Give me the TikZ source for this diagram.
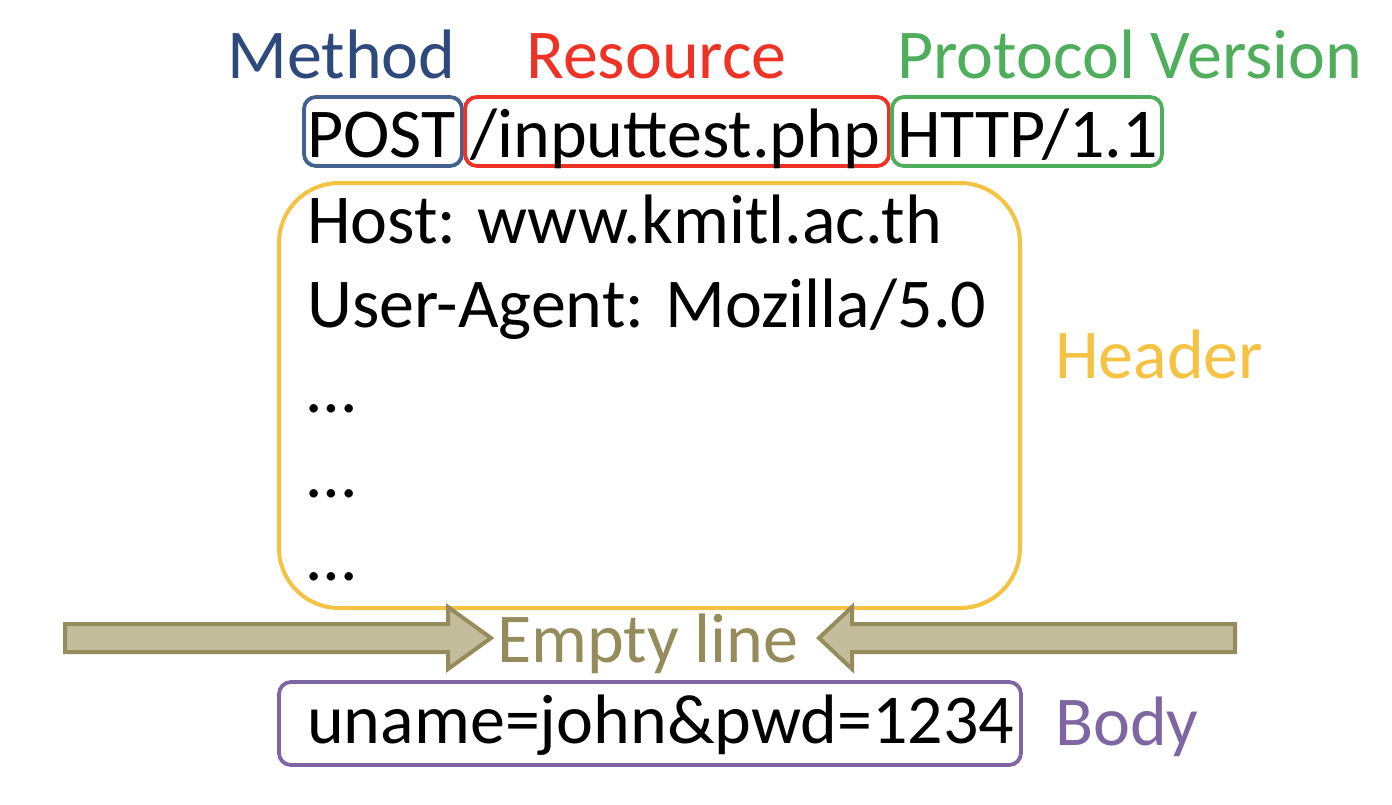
\documentclass[tikz,border=0pt]{standalone}
\usepackage{fontspec}
\setmainfont{Carlito}
\definecolor{cmethod}{HTML}{2E4A7C}
\definecolor{cres}{HTML}{EE3326}
\definecolor{cprot}{HTML}{4FAE5C}
\definecolor{cbox1}{HTML}{43618F}
\definecolor{chead}{HTML}{F5C242}
\definecolor{cafill}{HTML}{C3BD9B}
\definecolor{cadraw}{HTML}{958B5B}
\definecolor{cbody}{HTML}{7E66A2}
\begin{document}
\begin{tikzpicture}[x=1pt,y=-1pt,
  big/.style={inner sep=0pt,anchor=base west,font=\fontsize{70}{84}\selectfont},
  lbl/.style={inner sep=0pt,anchor=base west,font=\fontsize{70}{84}\selectfont},
  rbox/.style={line width=3.8pt,rounded corners=12pt},
  fat/.style={line width=4pt,fill=cafill,draw=cadraw,line join=miter}]
\useasboundingbox (0,0) rectangle (1392,804);
% labels
\node[lbl,text=cmethod] (method) at (227,78) {Method};
\node[lbl,text=cres] (resource) at (526,78) {Resource};
\node[lbl,text=cprot] (protocol) at (897,78) {Protocol Version};
% request line boxes
\draw[rbox,draw=cbox1] (304,97) rectangle (462,166);
\draw[rbox,draw=cres] (465,97) rectangle (889,166);
\draw[rbox,draw=cprot] (892,97) rectangle (1162,166);
\node[big] (post) at (307,157) {POST};
\node[big] (res) at (470,157) {/inputtest.php};
\node[big] (http) at (897,157) {HTTP/1.1};
% header
\draw[line width=4pt,draw=chead,rounded corners=60pt] (279,183) rectangle (1020,608);
\node[big] (host) at (307,243) {Host: www.kmitl.ac.th};
\node[big] (ua) at (307,327) {User-Agent: Mozilla/5.0};
\node[big] (d1) at (307,412) {…};
\node[big] (d2) at (307,497) {…};
\node[big] (d3) at (307,580) {…};
\node[lbl,text=chead] (header) at (1055,378) {Header};
% empty line arrows
\draw[fat] (65,624) -- (448,624) -- (448,607) -- (491,638) -- (448,669) -- (448,652) -- (65,652) -- cycle;
\draw[fat] (1235,624) -- (852,624) -- (852,607) -- (819,638) -- (852,669) -- (852,652) -- (1235,652) -- cycle;
\node[lbl,text=cadraw] (empty) at (497,662) {Empty line};
% body
\draw[rbox,draw=cbody] (279,682) rectangle (1021,765);
\node[big] (bodytext) at (307,743) {uname=john\&pwd=1234};
\node[lbl,text=cbody] (body) at (1055,745) {Body};
\end{tikzpicture}
\end{document}
